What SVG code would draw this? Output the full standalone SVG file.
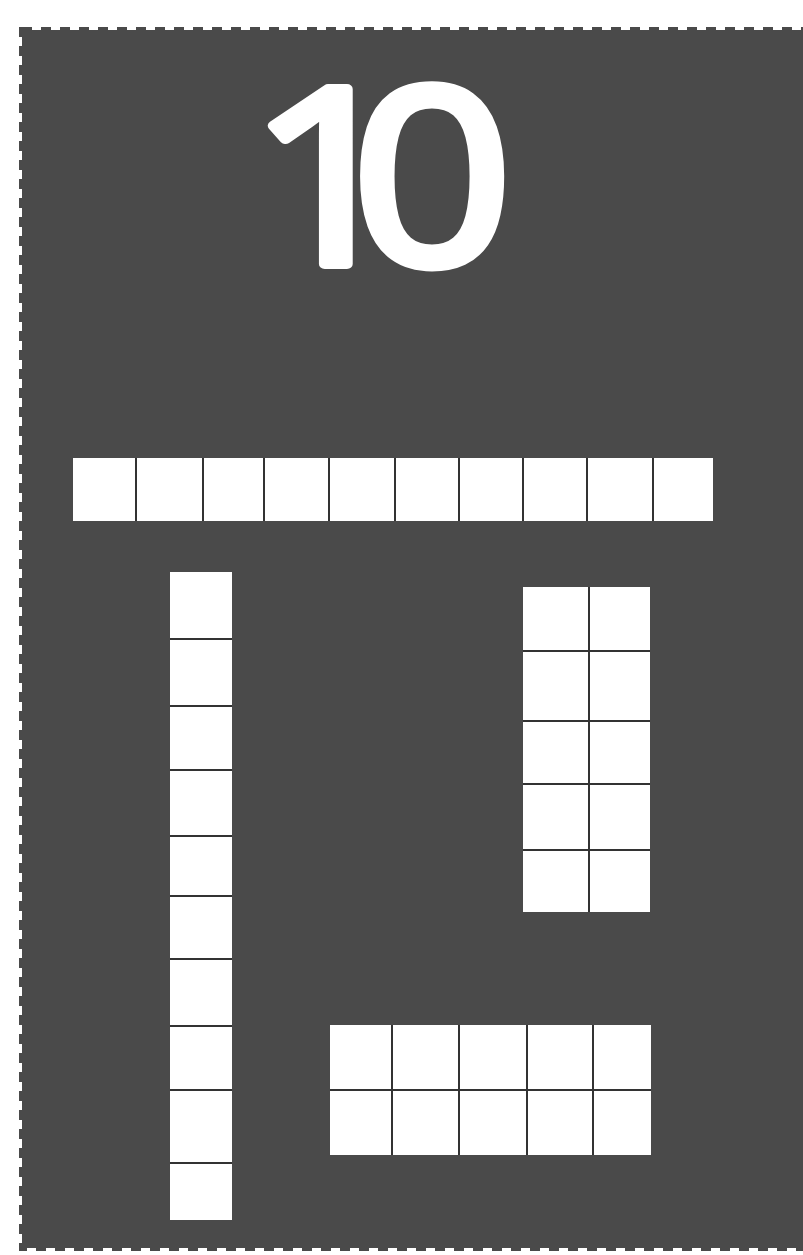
<svg xmlns="http://www.w3.org/2000/svg" width="803" height="1255" viewBox="0 0 803 1255">
<style>
.cell{fill:#ffffff;stroke:none}
.grid{stroke:#333333;stroke-width:2;fill:none}
.num{font-family:"Open Sans","Liberation Sans",sans-serif;fill:#ffffff;stroke:#ffffff;stroke-width:10;stroke-linejoin:round}
</style>
<rect x="0" y="0" width="803" height="1255" fill="#ffffff"/>
<g id="card">
<rect x="22" y="30" width="790" height="1218" fill="#4a4a4a" stroke="#4a4a4a" stroke-width="6" stroke-dasharray="10 9"/>
<rect x="22" y="30" width="790" height="1218" fill="#4a4a4a"/>
</g>
<g id="title">
<text class="num" font-size="245" letter-spacing="-50" transform="scale(1.15 1)" x="215.7" y="264">10</text>
</g>
<g id="row-of-ten">
<rect class="cell" x="73" y="458" width="640" height="63"/>
<path class="grid" d="M136 458V521M203 458V521M264 458V521M329 458V521M395 458V521M459 458V521M523 458V521M587 458V521M653 458V521"/>
</g>
<g id="column-of-ten">
<rect class="cell" x="170" y="572" width="62" height="648"/>
<path class="grid" d="M170 639H232M170 706H232M170 770H232M170 836H232M170 896H232M170 959H232M170 1026H232M170 1090H232M170 1163H232"/>
</g>
<g id="two-by-five">
<rect class="cell" x="523" y="587" width="127" height="325"/>
<path class="grid" d="M589 587V912M523 651H650M523 721H650M523 784H650M523 850H650"/>
</g>
<g id="five-by-two">
<rect class="cell" x="330" y="1025" width="321" height="130"/>
<path class="grid" d="M330 1090H651M392 1025V1155M459 1025V1155M527 1025V1155M593 1025V1155"/>
</g>
<g id="connectors"></g>
</svg>
